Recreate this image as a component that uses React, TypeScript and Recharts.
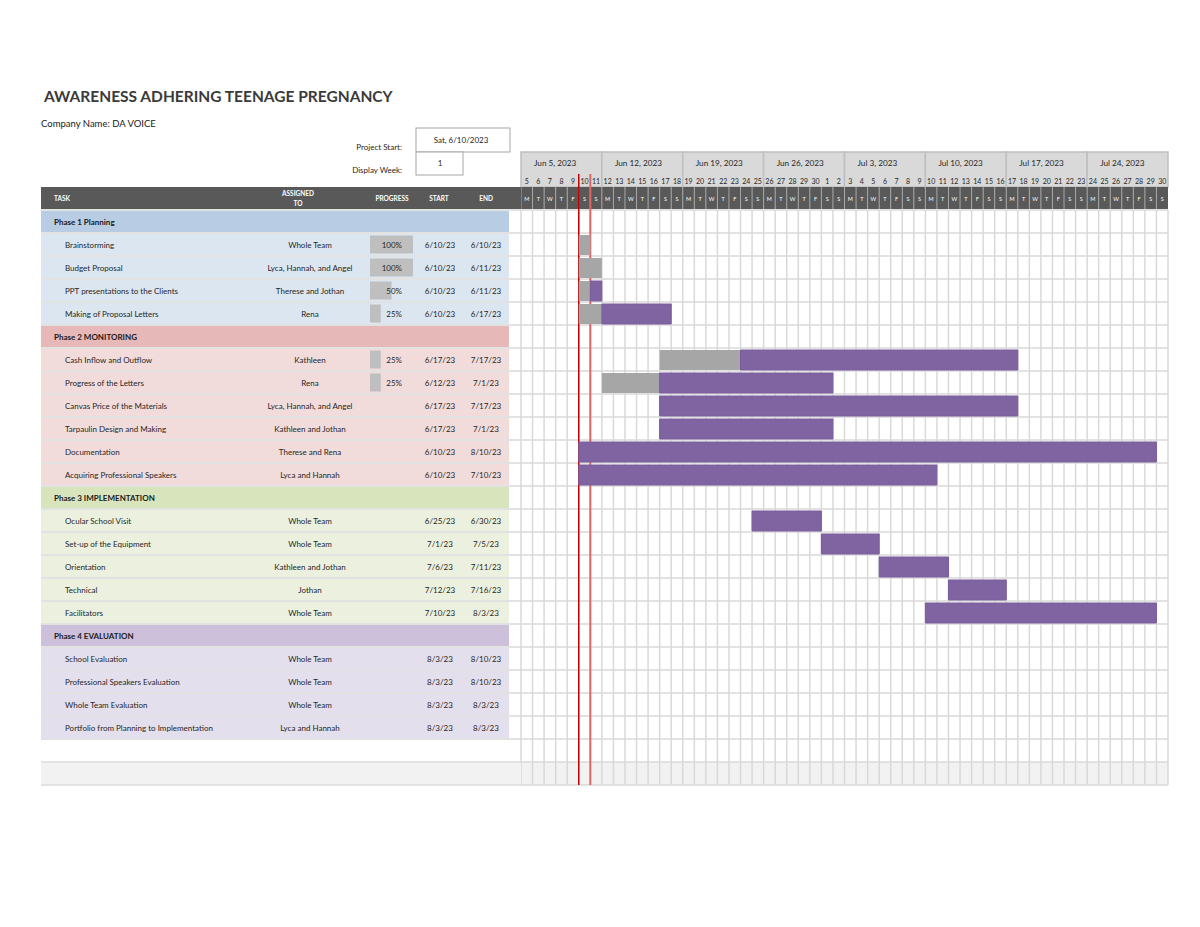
import React from "react"
import { BarChart, Bar, XAxis, YAxis, CartesianGrid } from "recharts"

const FONT = "Lato, 'Open Sans', sans-serif"

const title = "AWARENESS ADHERING TEENAGE PREGNANCY"
const companyName = "Company Name: DA VOICE"
const projectStart = "Sat, 6/10/2023"
const displayWeek = "1"
const timelineStart = "6/5/23"
const todayDate = "6/10/23"

const weekLabels = ["Jun 5, 2023", "Jun 12, 2023", "Jun 19, 2023", "Jun 26, 2023", "Jul 3, 2023", "Jul 10, 2023", "Jul 17, 2023", "Jul 24, 2023"]
const dayLetters = ["M", "T", "W", "T", "F", "S", "S"]

const rowTypes = [
  "phase", "task", "task", "task", "task",
  "phase", "task", "task", "task", "task", "task", "task",
  "phase", "task", "task", "task", "task", "task",
  "phase", "task", "task", "task", "task",
  "blank", "footer",
]

const taskNames = [
  "Phase 1 Planning", "Brainstorming", "Budget Proposal", "PPT presentations to the Clients", "Making of Proposal Letters",
  "Phase 2 MONITORING", "Cash Inflow and Outflow", "Progress of the Letters", "Canvas Price of the Materials", "Tarpaulin Design and Making", "Documentation", "Acquiring Professional Speakers",
  "Phase 3 IMPLEMENTATION", "Ocular School Visit", "Set-up of the Equipment", "Orientation", "Technical", "Facilitators",
  "Phase 4 EVALUATION", "School Evaluation", "Professional Speakers Evaluation", "Whole Team Evaluation", "Portfolio from Planning to Implementation",
  "", "",
]

const assignedTo = [
  "", "Whole Team", "Lyca, Hannah, and Angel", "Therese and Jothan", "Rena",
  "", "Kathleen", "Rena", "Lyca, Hannah, and Angel", "Kathleen and Jothan", "Therese and Rena", "Lyca and Hannah",
  "", "Whole Team", "Whole Team", "Kathleen and Jothan", "Jothan", "Whole Team",
  "", "Whole Team", "Whole Team", "Whole Team", "Lyca and Hannah",
  "", "",
]

const progress = [
  null, 100, 100, 50, 25,
  null, 25, 25, null, null, null, null,
  null, null, null, null, null, null,
  null, null, null, null, null,
  null, null,
]

const startDates = [
  "", "6/10/23", "6/10/23", "6/10/23", "6/10/23",
  "", "6/17/23", "6/12/23", "6/17/23", "6/17/23", "6/10/23", "6/10/23",
  "", "6/25/23", "7/1/23", "7/6/23", "7/12/23", "7/10/23",
  "", "8/3/23", "8/3/23", "8/3/23", "8/3/23",
  "", "",
]

const endDates = [
  "", "6/10/23", "6/11/23", "6/11/23", "6/17/23",
  "", "7/17/23", "7/1/23", "7/17/23", "7/1/23", "8/10/23", "7/10/23",
  "", "6/30/23", "7/5/23", "7/11/23", "7/16/23", "8/3/23",
  "", "8/10/23", "8/10/23", "8/3/23", "8/3/23",
  "", "",
]

const rowPhase = [0, 0, 0, 0, 0, 1, 1, 1, 1, 1, 1, 1, 2, 2, 2, 2, 2, 2, 3, 3, 3, 3, 3, 3, 3]

const phaseColors = ["#b8cce4", "#e6b8b7", "#d8e4bc", "#ccc0da"]
const taskColors = ["#dce6f1", "#f2dcdb", "#ebf1de", "#e4dfec"]

// layout
const TABLE_LEFT = 41
const TABLE_RIGHT = 509
const GRID_LEFT = 521
const GRID_RIGHT = 1168
const PLOT_TOP = 210
const ROW_H = 23
const NUM_DAYS = 56
const BAR_LIMIT = 55
const DAY_W = (GRID_RIGHT - GRID_LEFT) / NUM_DAYS
const DAY_MS = 86400000

const toUTC = (s: string) => {
  const [m, d, y] = s.split("/").map(Number)
  return Date.UTC(2000 + y, m - 1, d)
}
const T0 = toUTC(timelineStart)
const dayIndex = (s: string) => Math.round((toUTC(s) - T0) / DAY_MS)
const TODAY = dayIndex(todayDate)

const data = taskNames.map((_, i) => {
  const row: any = { id: `r${i}` }
  if (rowTypes[i] === "task") {
    const s = dayIndex(startDates[i])
    const e = dayIndex(endDates[i]) + 1
    if (s < BAR_LIMIT) {
      const end = Math.min(e, BAR_LIMIT)
      const doneEnd = Math.min(s + Math.floor(((e - s) * (progress[i] ?? 0)) / 100), end)
      row.pad = s
      row.done = doneEnd - s
      row.left = end - doneEnd
    }
  }
  return row
})

const dayTicks = Array.from({ length: NUM_DAYS + 1 }, (_, i) => i)
const stripeFills = rowTypes.map((t) => (t === "footer" ? "#f2f2f2" : "#ffffff"))

const scaleX = (xAxis: any, v: number) => {
  const sc = xAxis?.scale
  if (typeof sc === "function") return sc(v)
  if (sc && typeof sc.map === "function") return sc.map(v)
  return GRID_LEFT + v * DAY_W
}

const DayTick = (props: any) => {
  const { x, payload } = props
  const i = payload.value as number
  if (i >= NUM_DAYS) return <g />
  const dayNum = new Date(T0 + i * DAY_MS).getUTCDate()
  const cx = x + DAY_W / 2
  return (
    <g fontFamily={FONT}>
      {i % 7 === 0 && (
        <g>
          <rect x={x} y={152} width={7 * DAY_W} height={35} fill="#d9d9d9" stroke="#bfbfbf" strokeWidth={1.5} />
          <text x={x + 13} y={166} fontSize={8.2} fill="#262626">
            {weekLabels[i / 7]}
          </text>
        </g>
      )}
      <text x={cx} y={184} textAnchor="middle" fontSize={7} fill="#262626">
        {dayNum}
      </text>
      <rect x={x} y={187} width={DAY_W} height={22} fill="#595959" />
      <line x1={x} x2={x} y1={187} y2={209} stroke="#a6a6a6" strokeWidth={1} />
      <text x={cx} y={200.5} textAnchor="middle" fontSize={5.5} fill="#ffffff">
        {dayLetters[i % 7]}
      </text>
      {i === TODAY && <line x1={x} x2={x} y1={174} y2={210} stroke="#c00000" strokeWidth={1.5} />}
      {i === TODAY + 1 && <line x1={x} x2={x} y1={174} y2={210} stroke="#e06666" strokeWidth={2} />}
    </g>
  )
}

const RowTick = (props: any) => {
  const { y, payload } = props
  const i = Number(String(payload.value).slice(1))
  const top = y - ROW_H / 2
  const type = rowTypes[i]
  const p = rowPhase[i]
  const pct = progress[i]
  return (
    <g fontFamily={FONT} fontSize={8} fill="#262626">
      <line x1={TABLE_LEFT} x2={GRID_LEFT} y1={top} y2={top} stroke="#d9d9d9" strokeWidth={1.5} />
      {i === rowTypes.length - 1 && (
        <line x1={TABLE_LEFT} x2={GRID_LEFT} y1={top + ROW_H} y2={top + ROW_H} stroke="#d9d9d9" strokeWidth={1.5} />
      )}
      {type === "phase" && (
        <g>
          <rect x={TABLE_LEFT} y={top + 1} width={TABLE_RIGHT - TABLE_LEFT} height={ROW_H - 2} fill={phaseColors[p]} />
          <text x={54} y={y} dominantBaseline="central" fontWeight="bold" fill="#1a1a1a">
            {taskNames[i]}
          </text>
        </g>
      )}
      {type === "task" && (
        <g>
          <rect x={TABLE_LEFT} y={top + 1} width={TABLE_RIGHT - TABLE_LEFT} height={ROW_H - 2} fill={taskColors[p]} />
          <text x={65} y={y} dominantBaseline="central">
            {taskNames[i]}
          </text>
          <text x={310} y={y} dominantBaseline="central" textAnchor="middle">
            {assignedTo[i]}
          </text>
          {pct != null && (
            <g>
              <rect x={370} y={top + 2.5} width={(43 * pct) / 100} height={ROW_H - 5} fill="#bfbfbf" />
              <text x={402} y={y} dominantBaseline="central" textAnchor="end">
                {pct}%
              </text>
            </g>
          )}
          <text x={440} y={y} dominantBaseline="central" textAnchor="middle">
            {startDates[i]}
          </text>
          <text x={486} y={y} dominantBaseline="central" textAnchor="middle">
            {endDates[i]}
          </text>
        </g>
      )}
      {type === "footer" && <rect x={TABLE_LEFT} y={top + 1} width={GRID_LEFT - TABLE_LEFT} height={ROW_H - 2} fill="#f2f2f2" />}
    </g>
  )
}

export default function App() {
  return (
    <div style={{ position: "fixed", left: 0, top: 0, width: 1200, height: 927, background: "#ffffff" }}>
      <BarChart
        layout="vertical"
        width={1200}
        height={927}
        data={data}
        margin={{ top: 152, right: 1200 - GRID_RIGHT, bottom: 927 - PLOT_TOP - ROW_H * rowTypes.length, left: TABLE_LEFT }}
        barSize={20}
      >
        <CartesianGrid
          stroke="#d9d9d9"
          strokeWidth={1.5}
          horizontalFill={stripeFills}
          horizontalCoordinatesGenerator={({ offset }: any) =>
            Array.from({ length: rowTypes.length + 1 }, (_, k) => (offset?.top ?? PLOT_TOP) + k * ROW_H)
          }
        />
        {/* today markers, kept under the bars */}
        <CartesianGrid
          horizontal={false}
          stroke="#c00000"
          strokeWidth={1.5}
          verticalCoordinatesGenerator={({ xAxis }: any) => [scaleX(xAxis, TODAY)]}
        />
        <CartesianGrid
          horizontal={false}
          stroke="#e06666"
          strokeWidth={2}
          verticalCoordinatesGenerator={({ xAxis }: any) => [scaleX(xAxis, TODAY + 1)]}
        />
        <XAxis
          type="number"
          orientation="top"
          domain={[0, NUM_DAYS]}
          ticks={dayTicks}
          interval={0}
          height={PLOT_TOP - 152}
          tick={<DayTick />}
          axisLine={false}
          tickLine={false}
        />
        <YAxis
          type="category"
          dataKey="id"
          width={GRID_LEFT - TABLE_LEFT}
          interval={0}
          tick={<RowTick />}
          axisLine={false}
          tickLine={false}
        />
        <Bar dataKey="pad" stackId="g" fill="transparent" isAnimationActive={false} />
        <Bar dataKey="done" stackId="g" fill="#a6a6a6" isAnimationActive={false} />
        <Bar dataKey="left" stackId="g" fill="#8064a2" stroke="#7a5d9c" strokeWidth={1} isAnimationActive={false} />
      </BarChart>
      <svg width={1200} height={927} style={{ position: "absolute", left: 0, top: 0, pointerEvents: "none" }} fontFamily={FONT}>
        <text x={44} y={102} fontSize={15.5} fontWeight="bold" fill="#3a3a3a">
          {title}
        </text>
        <text x={41} y={127} fontSize={9.5} fill="#1a1a1a">
          {companyName}
        </text>
        <text x={402} y={150} fontSize={8} textAnchor="end" fill="#262626">
          Project Start:
        </text>
        <text x={402} y={173} fontSize={8} textAnchor="end" fill="#262626">
          Display Week:
        </text>
        <rect x={416} y={128} width={94} height={24} fill="#ffffff" stroke="#a6a6a6" strokeWidth={1} />
        <text x={461} y={143} fontSize={8} textAnchor="middle" fill="#262626">
          {projectStart}
        </text>
        <rect x={416} y={152} width={47} height={23} fill="#ffffff" stroke="#a6a6a6" strokeWidth={1} />
        <text x={440} y={166} fontSize={8} textAnchor="middle" fill="#262626">
          {displayWeek}
        </text>
        <rect x={TABLE_LEFT} y={187} width={GRID_LEFT - TABLE_LEFT} height={22} fill="#595959" />
        <g fontSize={6.5} fontWeight="bold" fill="#ffffff">
          <text x={54} y={200.5}>TASK</text>
          <text x={298} y={195.5} textAnchor="middle">ASSIGNED</text>
          <text x={298} y={205.5} textAnchor="middle">TO</text>
          <text x={392} y={200.5} textAnchor="middle">PROGRESS</text>
          <text x={439} y={200.5} textAnchor="middle">START</text>
          <text x={486} y={200.5} textAnchor="middle">END</text>
        </g>
      </svg>
    </div>
  )
}
